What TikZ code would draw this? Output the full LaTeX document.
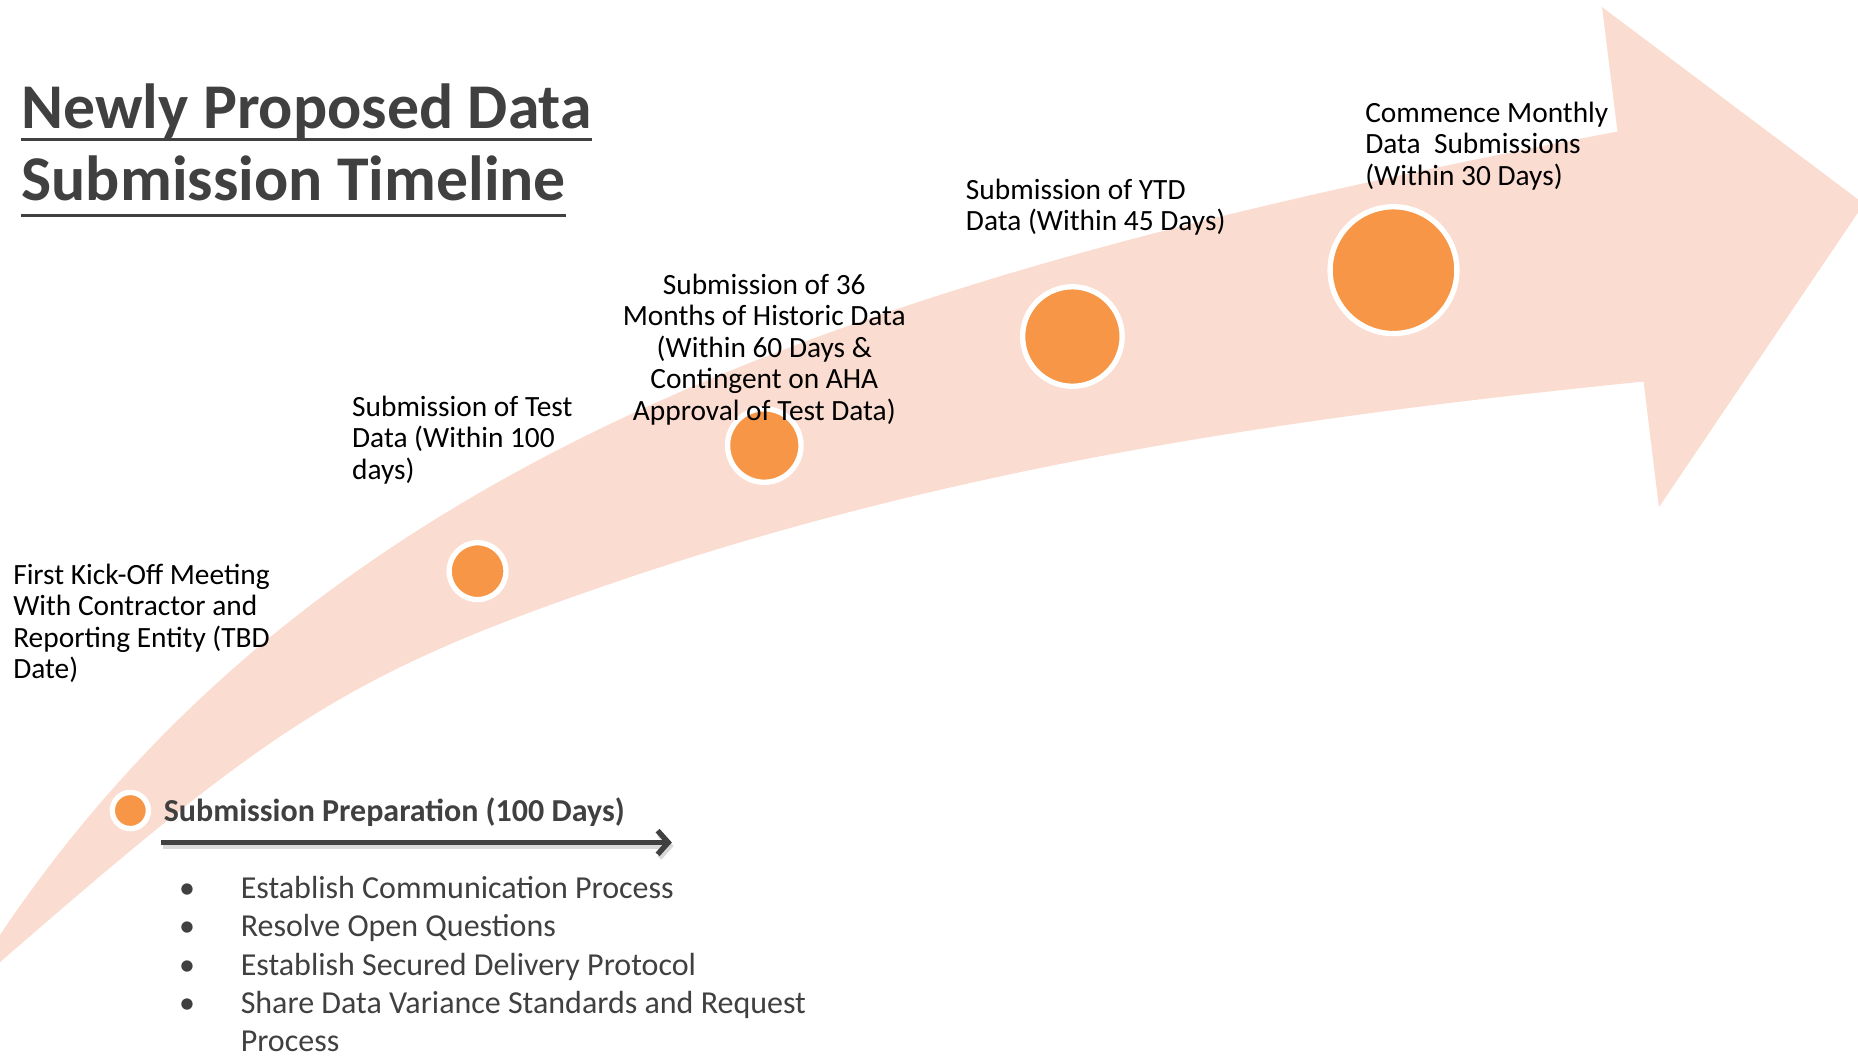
\documentclass[tikz,border=0pt]{standalone}
\usepackage{fontspec}
\setmainfont{Carlito}
\usepackage{tikz}
\usetikzlibrary{arrows.meta,positioning}
\definecolor{tlorange}{HTML}{F79646}
\definecolor{tlband}{HTML}{FBDCD0}
\definecolor{tlgray}{HTML}{404040}
\newcommand{\taskbullet}{\makebox[52pt][l]{\textbullet}}
\newcommand{\topstrut}{\rule{0pt}{20pt}}

\begin{document}
\begin{tikzpicture}[
  x=1pt, y=-1pt,
  heading/.style={
    anchor=base west,
    inner sep=0pt,
    text=tlgray,
    font=\fontsize{53.8}{61}\selectfont\bfseries
  },
  headrule/.style={draw=tlgray, line width=2.8pt},
  milestone/.style={
    circle,
    fill=tlorange,
    draw=white,
    line width=4.5pt,
    inner sep=0pt
  },
  stage/.style={
    anchor=north west,
    inner sep=0pt,
    align=left,
    font=\fontsize{24.8}{26.6}\selectfont
  },
  prephead/.style={
    anchor=base west,
    inner sep=0pt,
    text=tlgray,
    font=\fontsize{27}{30}\selectfont\bfseries
  },
  tasklist/.style={
    anchor=north west,
    inner sep=0pt,
    align=left,
    text=tlgray,
    font=\fontsize{27}{32.3}\selectfont
  },
  prepline/.style={draw=tlgray, line width=4.5pt, -{Straight Barb[length=9pt,width=20pt]}}
]
\useasboundingbox (0,0) rectangle (1568,891);

% curved band
\begin{scope}
  \clip (0,0) rectangle (1568,891);
  \fill[tlband] (-40,848) -- (0,789)
    .. controls (275,379) and (740,230) .. (1365,111)
    -- (1352,6) -- (1573,172) -- (1400,428) -- (1387,322)
    .. controls (1099,351) and (811,392) .. (523,490)
    .. controls (293,568) and (230,612) .. (0,812)
    -- cycle;
\end{scope}

% title
\node[heading] (title1) at (18,108.5) {Newly Proposed Data};
\node[heading] (title2) at (18,169.5) {Submission Timeline};
\draw[headrule] ([yshift=-9.5pt]title1.base west) -- ([yshift=-9.5pt]title1.base east);
\draw[headrule] ([yshift=-12.5pt]title2.base west) -- ([yshift=-12.5pt]title2.base east);

% milestones
\node[milestone, minimum size=30.5pt] (m0) at (110,684) {};
\node[milestone, minimum size=48pt] (m1) at (403,482) {};
\node[milestone, minimum size=62pt] (m2) at (645,376) {};
\node[milestone, minimum size=84pt] (m3) at (905,284) {};
\node[milestone, minimum size=107pt] (m4) at (1176,228) {};

\node[stage] (lbl0) at (11,473) {\topstrut First Kick-Off Meeting\\With Contractor and\\Reporting Entity (TBD\\Date)};
\node[stage] (lbl1) at (297,331) {\topstrut Submission of Test\\Data (Within 100\\days)};
\node[stage, anchor=north, align=center] (lbl2) at (645,228) {\topstrut Submission of 36\\Months of Historic Data\\(Within 60 Days \&\\Contingent on AHA\\Approval of Test Data)};
\node[stage] (lbl3) at (815,148) {\topstrut Submission of YTD\\Data (Within 45 Days)};
\node[stage] (lbl4) at (1152,83) {\topstrut Commence Monthly\\Data\ \ Submissions\\(Within 30 Days)};

% preparation phase
\node[prephead] (prep) at (138,693) {Submission Preparation (100 Days)};
\coordinate (prepstart) at (136,711);
\coordinate (prepend) at (567,711);
\draw[prepline, draw=black!15, transform canvas={xshift=1.5pt, yshift=-3pt}] (prepstart) -- (prepend);
\draw[prepline] (prepstart) -- (prepend);

\node[tasklist] (tasks) at (151,735.5) {\strut\taskbullet Establish Communication Process\\
  \taskbullet Resolve Open Questions\\
  \taskbullet Establish Secured Delivery Protocol\\
  \taskbullet Share Data Variance Standards and Request\\
  \hspace*{52pt}Process};

\end{tikzpicture}
\end{document}
